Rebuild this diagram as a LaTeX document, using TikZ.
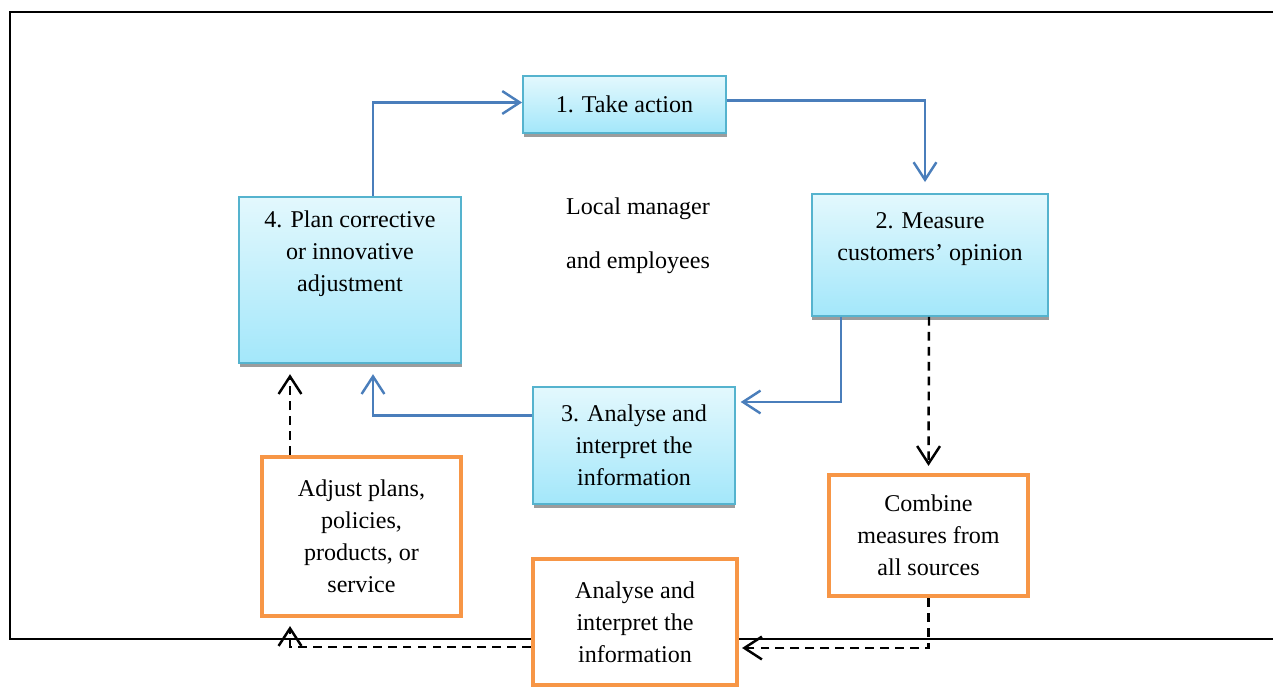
\documentclass[tikz,border=0pt]{standalone}
\usepackage{fontspec}
\setmainfont{Liberation Serif}
\usepackage{xcolor}
\usetikzlibrary{arrows.meta, positioning, calc, shadows}
\definecolor{cyTop}{HTML}{E3F8FD}
\definecolor{cyBot}{HTML}{A3E7FA}
\definecolor{cyLine}{HTML}{55B3CE}
\definecolor{cyShade}{HTML}{9C9C9C}
\definecolor{flowBlue}{HTML}{4A7EBB}
\definecolor{orLine}{HTML}{F79646}
\tikzset{
  cy-box/.style={
    rectangle, draw=cyLine, line width=1.1pt, top color=cyTop,
    bottom color=cyBot, align=center,
    drop shadow={shadow xshift=0.4pt, shadow yshift=-2.4pt,
      fill=cyShade, opacity=1}
  },
  or-box/.style={
    rectangle, draw=orLine, line width=2.4pt, fill=white, align=center
  },
  box-text/.style={align=center},
  cy-flow/.style={-{Straight Barb[length=10pt,width=13pt]}, line width=1.4pt, draw=flowBlue},
  bk-flow-dashed/.style={-{Straight Barb[length=10pt,width=13pt]}, line width=1.4pt,
    dash pattern=on 5pt off 3.5pt, draw=black},
}

\begin{document}
\begin{tikzpicture}[x=0.02cm, y=-0.02cm, font=\fontsize{13.7pt}{18.2pt}\selectfont]
  \useasboundingbox (0,0) rectangle (1273,688);
  % frame
  \draw[line width=1.4pt] (1273,12) -- (10,12) -- (10,639) -- (1273,639);

  % cycle
  \node[cy-box, minimum width=4.06cm, minimum height=1.14cm] (take) at (624.5,104.5) {1. Take action};
  \node[cy-box, minimum width=4.73cm, minimum height=2.44cm] (measure) at (930,255) {};
  \node[box-text, below=0.26cm of measure.north] (measuretxt) {2. Measure\\customers' opinion};
  \node[cy-box, minimum width=4.03cm, minimum height=2.34cm] (anal) at (634,445.5) {3. Analyse and\\interpret the\\information};
  \node[cy-box, minimum width=4.44cm, minimum height=3.33cm] (plan) at (350,280) {};
  \node[box-text, below=0.17cm of plan.north] (plantxt) {4. Plan corrective\\or innovative\\adjustment};

  \node[align=center] (mgr) at (638,236) {Local manager\\[12.4pt]and employees};

  % outer loop
  \node[or-box, minimum width=3.98cm, minimum height=2.42cm] (combine) at (928.5,535.5) {Combine\\measures from\\all sources};
  \node[or-box, minimum width=4.08cm, minimum height=2.52cm] (oanal) at (635,622) {Analyse and\\interpret the\\information};
  \node[or-box, minimum width=3.98cm, minimum height=3.18cm] (adjust) at (361.5,536.5) {Adjust plans,\\policies,\\products, or\\service};

  \draw[cy-flow] ($(plan.north)+(23,0)$) |- ($(take.west)+(0,-2)$);
  \draw[cy-flow] ($(take.east)+(0,-4)$) -| ($(measure.north)+(-5,-11)$);
  \draw[cy-flow] ($(measure.south)+(-89,0)$) |- ($(anal.east)+(5,-43.5)$);
  \draw[cy-flow] ($(anal.west)+(0,-30)$) -| ($(plan.south)+(23,10)$);

  \draw[bk-flow-dashed] ($(measure.south)+(-1,0)$) -- ($(combine.north)+(0,-7)$);
  \draw[bk-flow-dashed] (combine.south) |- ($(oanal.east)+(3,26)$);
  \draw[bk-flow-dashed] ($(oanal.west)+(0,25)$) -| ($(adjust.south)+(-71.5,8)$);
  \draw[bk-flow-dashed] ($(adjust.north)+(-71.5,0)$) -- ($(plan.south)+(-60,10)$);
\end{tikzpicture}
\end{document}
